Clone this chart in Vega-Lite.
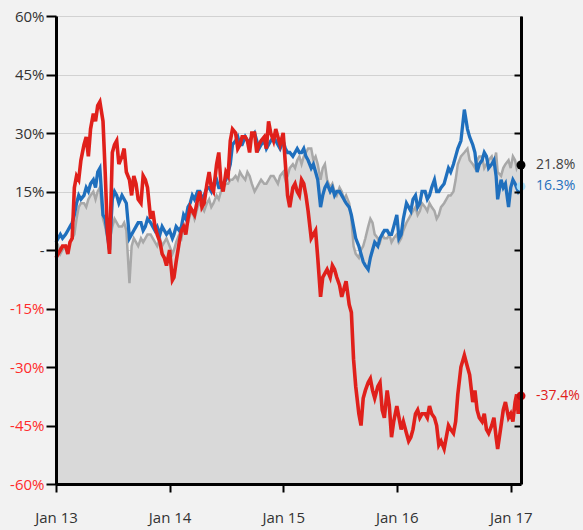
{
  "$schema": "https://vega.github.io/schema/vega-lite/v6.json",
  "width": 465,
  "height": 468,
  "autosize": "none",
  "padding": {"left": 56, "top": 16, "right": 62, "bottom": 46},
  "background": "#f2f2f2",
  "config": {
    "view": {"stroke": "#444444", "strokeWidth": 1, "fill": "#f2f2f2"},
    "font": "Open Sans"
  },
  "datasets": {
    "series": [
      {"d":"2013-01-01","g":0,"b":2,"r":-2},
      {"d":"2013-01-08","g":1,"b":3,"r":-1},
      {"d":"2013-01-15","g":-1,"b":4,"r":0},
      {"d":"2013-01-22","g":0,"b":3,"r":1},
      {"d":"2013-02-01","g":1,"b":4,"r":1},
      {"d":"2013-02-08","g":0,"b":5,"r":-1},
      {"d":"2013-02-15","g":2,"b":6,"r":2},
      {"d":"2013-02-22","g":3,"b":7,"r":3},
      {"d":"2013-03-01","g":4,"b":9,"r":16},
      {"d":"2013-03-08","g":8,"b":12,"r":19},
      {"d":"2013-03-15","g":11,"b":14,"r":18},
      {"d":"2013-03-22","g":12,"b":13,"r":23},
      {"d":"2013-04-01","g":12,"b":14,"r":27},
      {"d":"2013-04-08","g":11,"b":16,"r":29},
      {"d":"2013-04-15","g":13,"b":15,"r":24},
      {"d":"2013-04-22","g":14,"b":17,"r":31},
      {"d":"2013-05-01","g":15,"b":18,"r":35},
      {"d":"2013-05-08","g":13,"b":16,"r":33},
      {"d":"2013-05-15","g":15,"b":20,"r":37},
      {"d":"2013-05-22","g":16,"b":21,"r":38},
      {"d":"2013-06-01","g":8,"b":9,"r":33},
      {"d":"2013-06-08","g":6,"b":8,"r":20},
      {"d":"2013-06-15","g":3,"b":4,"r":5},
      {"d":"2013-06-22","g":2,"b":0,"r":-1},
      {"d":"2013-07-01","g":6,"b":13,"r":25},
      {"d":"2013-07-08","g":8,"b":15,"r":27},
      {"d":"2013-07-15","g":7,"b":14,"r":28},
      {"d":"2013-07-22","g":6,"b":12,"r":22},
      {"d":"2013-08-01","g":6,"b":14,"r":24},
      {"d":"2013-08-08","g":7,"b":13,"r":26},
      {"d":"2013-08-15","g":5,"b":12,"r":20},
      {"d":"2013-08-25","g":-8.5,"b":3,"r":18},
      {"d":"2013-09-01","g":1,"b":4,"r":14},
      {"d":"2013-09-08","g":3,"b":5,"r":19},
      {"d":"2013-09-15","g":2,"b":6,"r":17},
      {"d":"2013-09-22","g":1,"b":7,"r":13},
      {"d":"2013-10-01","g":3,"b":7,"r":12},
      {"d":"2013-10-08","g":2,"b":5,"r":19},
      {"d":"2013-10-15","g":3,"b":6,"r":18},
      {"d":"2013-10-22","g":4,"b":8,"r":16},
      {"d":"2013-11-01","g":4,"b":7,"r":8},
      {"d":"2013-11-08","g":3,"b":6,"r":10},
      {"d":"2013-11-15","g":2,"b":5,"r":6},
      {"d":"2013-11-22","g":1,"b":6,"r":4},
      {"d":"2013-12-01","g":3,"b":4,"r":2},
      {"d":"2013-12-08","g":1,"b":6,"r":-1},
      {"d":"2013-12-15","g":2,"b":5,"r":-2},
      {"d":"2013-12-22","g":3,"b":4,"r":-4},
      {"d":"2014-01-01","g":1,"b":5,"r":0},
      {"d":"2014-01-10","g":-1,"b":3,"r":-7.7},
      {"d":"2014-01-15","g":0,"b":4,"r":-7},
      {"d":"2014-01-22","g":2,"b":6,"r":-3},
      {"d":"2014-02-01","g":4,"b":5,"r":2},
      {"d":"2014-02-08","g":3,"b":6,"r":5},
      {"d":"2014-02-15","g":6,"b":9,"r":6},
      {"d":"2014-02-22","g":6,"b":8,"r":4},
      {"d":"2014-03-01","g":7,"b":11,"r":8},
      {"d":"2014-03-08","g":9,"b":12,"r":11},
      {"d":"2014-03-15","g":10,"b":14,"r":10},
      {"d":"2014-03-22","g":8,"b":13,"r":9},
      {"d":"2014-04-01","g":11,"b":15,"r":13},
      {"d":"2014-04-08","g":12,"b":15,"r":15},
      {"d":"2014-04-15","g":11,"b":13,"r":11},
      {"d":"2014-04-22","g":10,"b":14,"r":12},
      {"d":"2014-05-01","g":12,"b":16,"r":17},
      {"d":"2014-05-08","g":13,"b":16,"r":20},
      {"d":"2014-05-15","g":11,"b":15,"r":16},
      {"d":"2014-05-22","g":12,"b":17,"r":15},
      {"d":"2014-06-01","g":14,"b":18,"r":22},
      {"d":"2014-06-08","g":13,"b":16,"r":25},
      {"d":"2014-06-15","g":15,"b":16,"r":17},
      {"d":"2014-06-22","g":16,"b":17,"r":15},
      {"d":"2014-07-01","g":17,"b":18,"r":20},
      {"d":"2014-07-08","g":17,"b":20,"r":19},
      {"d":"2014-07-15","g":18,"b":22,"r":28},
      {"d":"2014-07-22","g":18,"b":27,"r":31},
      {"d":"2014-08-01","g":19,"b":28,"r":30},
      {"d":"2014-08-08","g":18,"b":29,"r":26},
      {"d":"2014-08-15","g":20,"b":27,"r":27},
      {"d":"2014-08-22","g":19,"b":27,"r":29},
      {"d":"2014-09-01","g":18,"b":29,"r":29},
      {"d":"2014-09-08","g":20,"b":28,"r":28},
      {"d":"2014-09-15","g":19,"b":28,"r":25},
      {"d":"2014-09-22","g":17,"b":29,"r":30},
      {"d":"2014-10-01","g":15,"b":30,"r":30},
      {"d":"2014-10-08","g":16,"b":28,"r":25},
      {"d":"2014-10-15","g":17,"b":26,"r":27},
      {"d":"2014-10-22","g":18,"b":27,"r":28},
      {"d":"2014-11-01","g":17,"b":28,"r":29},
      {"d":"2014-11-08","g":17,"b":26,"r":26},
      {"d":"2014-11-15","g":18,"b":27,"r":33},
      {"d":"2014-11-22","g":19,"b":28,"r":30},
      {"d":"2014-12-01","g":19,"b":29,"r":28},
      {"d":"2014-12-08","g":18,"b":28,"r":31},
      {"d":"2014-12-15","g":17,"b":27,"r":29},
      {"d":"2014-12-22","g":19,"b":26,"r":27},
      {"d":"2015-01-01","g":20,"b":28,"r":30},
      {"d":"2015-01-08","g":18,"b":26,"r":22},
      {"d":"2015-01-15","g":19,"b":25,"r":14},
      {"d":"2015-01-22","g":21,"b":25,"r":11},
      {"d":"2015-02-01","g":22,"b":24,"r":16},
      {"d":"2015-02-08","g":21,"b":25,"r":17},
      {"d":"2015-02-15","g":23,"b":26,"r":15},
      {"d":"2015-02-22","g":24,"b":25,"r":14},
      {"d":"2015-03-01","g":22,"b":25,"r":18},
      {"d":"2015-03-08","g":24,"b":26,"r":17},
      {"d":"2015-03-15","g":25,"b":24,"r":14},
      {"d":"2015-03-22","g":26,"b":23,"r":10},
      {"d":"2015-04-01","g":26,"b":21,"r":3},
      {"d":"2015-04-08","g":23,"b":22,"r":4},
      {"d":"2015-04-15","g":24,"b":20,"r":5},
      {"d":"2015-04-22","g":22,"b":18,"r":-2},
      {"d":"2015-05-01","g":18,"b":11,"r":-12},
      {"d":"2015-05-08","g":21,"b":14,"r":-7},
      {"d":"2015-05-15","g":22,"b":16,"r":-6},
      {"d":"2015-05-22","g":18,"b":17,"r":-5},
      {"d":"2015-06-01","g":16,"b":15,"r":-7},
      {"d":"2015-06-08","g":17,"b":16,"r":-4},
      {"d":"2015-06-15","g":15,"b":14,"r":-5},
      {"d":"2015-06-22","g":14,"b":15,"r":-7},
      {"d":"2015-07-01","g":16,"b":15,"r":-9},
      {"d":"2015-07-08","g":15,"b":14,"r":-12},
      {"d":"2015-07-15","g":13,"b":13,"r":-10},
      {"d":"2015-07-22","g":14,"b":12,"r":-8},
      {"d":"2015-08-01","g":12,"b":11,"r":-14},
      {"d":"2015-08-08","g":8,"b":9,"r":-16},
      {"d":"2015-08-15","g":1,"b":6,"r":-28},
      {"d":"2015-08-22","g":-1,"b":3,"r":-35},
      {"d":"2015-09-01","g":-2,"b":1,"r":-42},
      {"d":"2015-09-08","g":0,"b":-1,"r":-45},
      {"d":"2015-09-15","g":1,"b":-3,"r":-38},
      {"d":"2015-09-22","g":3,"b":-4,"r":-36},
      {"d":"2015-10-01","g":6,"b":-5,"r":-34},
      {"d":"2015-10-08","g":8,"b":-2,"r":-33},
      {"d":"2015-10-15","g":7,"b":0,"r":-36},
      {"d":"2015-10-22","g":4,"b":2,"r":-38},
      {"d":"2015-11-01","g":3,"b":1,"r":-35},
      {"d":"2015-11-08","g":2,"b":3,"r":-34},
      {"d":"2015-11-15","g":4,"b":4,"r":-41},
      {"d":"2015-11-22","g":3,"b":5,"r":-43},
      {"d":"2015-12-01","g":3,"b":5,"r":-36},
      {"d":"2015-12-08","g":4,"b":4,"r":-40},
      {"d":"2015-12-15","g":2,"b":4,"r":-48},
      {"d":"2015-12-22","g":3,"b":6,"r":-44},
      {"d":"2016-01-01","g":4,"b":9,"r":-40},
      {"d":"2016-01-08","g":2,"b":3,"r":-43},
      {"d":"2016-01-15","g":3,"b":4,"r":-46},
      {"d":"2016-01-22","g":5,"b":8,"r":-44},
      {"d":"2016-02-01","g":7,"b":12,"r":-47},
      {"d":"2016-02-08","g":8,"b":11,"r":-49},
      {"d":"2016-02-15","g":9,"b":10,"r":-48},
      {"d":"2016-02-22","g":10,"b":13,"r":-46},
      {"d":"2016-03-01","g":11,"b":14,"r":-42},
      {"d":"2016-03-08","g":9,"b":11,"r":-41},
      {"d":"2016-03-15","g":10,"b":12,"r":-43},
      {"d":"2016-03-22","g":12,"b":15,"r":-42},
      {"d":"2016-04-01","g":11,"b":15,"r":-42},
      {"d":"2016-04-08","g":10,"b":13,"r":-43},
      {"d":"2016-04-15","g":12,"b":14,"r":-40},
      {"d":"2016-04-22","g":11,"b":16,"r":-42},
      {"d":"2016-05-01","g":10,"b":18,"r":-43},
      {"d":"2016-05-08","g":8,"b":15,"r":-45},
      {"d":"2016-05-15","g":9,"b":15,"r":-50},
      {"d":"2016-05-22","g":11,"b":16,"r":-49},
      {"d":"2016-06-01","g":12,"b":17,"r":-51},
      {"d":"2016-06-08","g":13,"b":19,"r":-48},
      {"d":"2016-06-15","g":14,"b":21,"r":-45},
      {"d":"2016-06-22","g":14,"b":20,"r":-46},
      {"d":"2016-07-01","g":15,"b":22,"r":-47},
      {"d":"2016-07-08","g":18,"b":24,"r":-44},
      {"d":"2016-07-15","g":22,"b":26,"r":-37},
      {"d":"2016-07-25","g":24,"b":28,"r":-30},
      {"d":"2016-08-05","g":25,"b":36,"r":-27},
      {"d":"2016-08-15","g":26,"b":31,"r":-30},
      {"d":"2016-08-22","g":23,"b":29,"r":-32},
      {"d":"2016-09-01","g":22,"b":27,"r":-39},
      {"d":"2016-09-08","g":21,"b":25,"r":-36},
      {"d":"2016-09-15","g":23,"b":20,"r":-41},
      {"d":"2016-09-22","g":24,"b":22,"r":-43},
      {"d":"2016-10-01","g":24,"b":23,"r":-44},
      {"d":"2016-10-08","g":21,"b":25,"r":-42},
      {"d":"2016-10-15","g":22,"b":24,"r":-46},
      {"d":"2016-10-22","g":23,"b":21,"r":-47},
      {"d":"2016-11-01","g":24,"b":22,"r":-45},
      {"d":"2016-11-08","g":22,"b":23,"r":-43},
      {"d":"2016-11-15","g":25,"b":19,"r":-48},
      {"d":"2016-11-20","g":20,"b":13,"r":-51},
      {"d":"2016-12-01","g":19,"b":18,"r":-45},
      {"d":"2016-12-08","g":21,"b":16,"r":-41},
      {"d":"2016-12-15","g":22,"b":17,"r":-39},
      {"d":"2016-12-25","g":23,"b":11,"r":-43},
      {"d":"2017-01-01","g":21,"b":16,"r":-42},
      {"d":"2017-01-08","g":24,"b":18,"r":-44},
      {"d":"2017-01-15","g":23,"b":17,"r":-39},
      {"d":"2017-01-20","g":21,"b":16,"r":-37},
      {"d":"2017-01-25","g":22,"b":15,"r":-42},
      {"d":"2017-02-03","g":21.8,"b":16.3,"r":-37.4}
    ],
    "ends": [
      {"d":"2017-02-03","v":21.8,"label":"21.8%","s":"gray"},
      {"d":"2017-02-03","v":16.3,"label":"16.3%","s":"blue"},
      {"d":"2017-02-03","v":-37.4,"label":"-37.4%","s":"red"}
    ]
  },
  "data": {"name": "series"},
  "encoding": {
    "x": {
      "field": "d",
      "type": "temporal",
      "scale": {
        "type": "utc",
        "domain": [
          {"year": 2013, "month": 1, "date": 1, "utc": true},
          {"year": 2017, "month": 2, "date": 3, "utc": true}
        ]
      },
      "axis": {
        "orient": "bottom",
        "title": null,
        "grid": false,
        "zindex": 1,
        "values": [
          {"year": 2013, "month": 1, "date": 1, "utc": true},
          {"year": 2014, "month": 1, "date": 1, "utc": true},
          {"year": 2015, "month": 1, "date": 1, "utc": true},
          {"year": 2016, "month": 1, "date": 1, "utc": true},
          {"year": 2017, "month": 1, "date": 1, "utc": true}
        ],
        "format": "%b %y",
        "domainColor": "#000000",
        "domainWidth": 3,
        "tickColor": "#000000",
        "tickWidth": 2,
        "tickSize": 8,
        "labelPadding": 18,
        "labelFontSize": 15,
        "labelColor": "#333333",
        "labelFlush": false
      }
    }
  },
  "resolve": {"axis": {"y": "independent"}, "scale": {"color": "independent"}},
  "layer": [
    {
      "mark": {"type": "area", "color": "#d9d9d9", "opacity": 1},
      "encoding": {
        "y": {
          "field": "g",
          "type": "quantitative",
          "scale": {"domain": [-60, 60], "nice": false, "zero": false},
          "axis": {
            "orient": "left",
            "title": null,
            "values": [-60, -45, -30, -15, 0, 15, 30, 45, 60],
            "grid": true,
            "gridColor": "#d2d2d2",
            "gridWidth": 1,
            "domain": false,
            "ticks": false,
            "labels": false,
            "zindex": 0
          }
        },
        "y2": {"datum": -60}
      }
    },
    {
      "mark": {"type": "line", "color": "#a8a8a8", "strokeWidth": 2.5},
      "encoding": {"y": {"field": "g", "type": "quantitative", "axis": null}}
    },
    {
      "mark": {"type": "line", "color": "#1f6fbd", "strokeWidth": 3.3},
      "encoding": {
        "y": {
          "field": "b",
          "type": "quantitative",
          "axis": {
            "orient": "right",
            "title": null,
            "values": [-45, -30, -15, 0, 15, 30, 45],
            "grid": false,
            "labels": false,
            "domainColor": "#000000",
            "domainWidth": 3,
            "tickColor": "#000000",
            "tickWidth": 2,
            "tickSize": -7,
            "zindex": 1
          }
        }
      }
    },
    {
      "mark": {"type": "line", "color": "#e0201b", "strokeWidth": 3.6},
      "encoding": {
        "y": {
          "field": "r",
          "type": "quantitative",
          "axis": {
            "orient": "left",
            "title": null,
            "values": [-60, -45, -30, -15, 0, 15, 30, 45, 60],
            "labelExpr": "datum.value == 0 ? '-' : datum.value + '%'",
            "labelColor": {"condition": {"test": "datum.value < 0", "value": "#ff2b2b"}, "value": "#333333"},
            "labelFontSize": 15,
            "labelPadding": 2,
            "grid": false,
            "domainColor": "#000000",
            "domainWidth": 3,
            "tickColor": "#000000",
            "tickWidth": 2,
            "tickSize": 10,
            "zindex": 1
          }
        }
      }
    },
    {
      "data": {"name": "ends"},
      "mark": {"type": "point", "filled": true, "opacity": 1, "size": 80},
      "encoding": {
        "y": {"field": "v", "type": "quantitative", "axis": null},
        "color": {
          "field": "s",
          "type": "nominal",
          "scale": {"domain": ["gray", "blue", "red"], "range": ["#000000", "#a9dcf5", "#c81010"]},
          "legend": null
        }
      }
    },
    {
      "data": {"name": "ends"},
      "mark": {"type": "text", "align": "left", "baseline": "middle", "dx": 15, "fontSize": 14},
      "encoding": {
        "y": {"field": "v", "type": "quantitative", "axis": null},
        "text": {"field": "label"},
        "color": {
          "field": "s",
          "type": "nominal",
          "scale": {"domain": ["gray", "blue", "red"], "range": ["#404040", "#1f6fbd", "#e0201b"]},
          "legend": null
        }
      }
    }
  ]
}
